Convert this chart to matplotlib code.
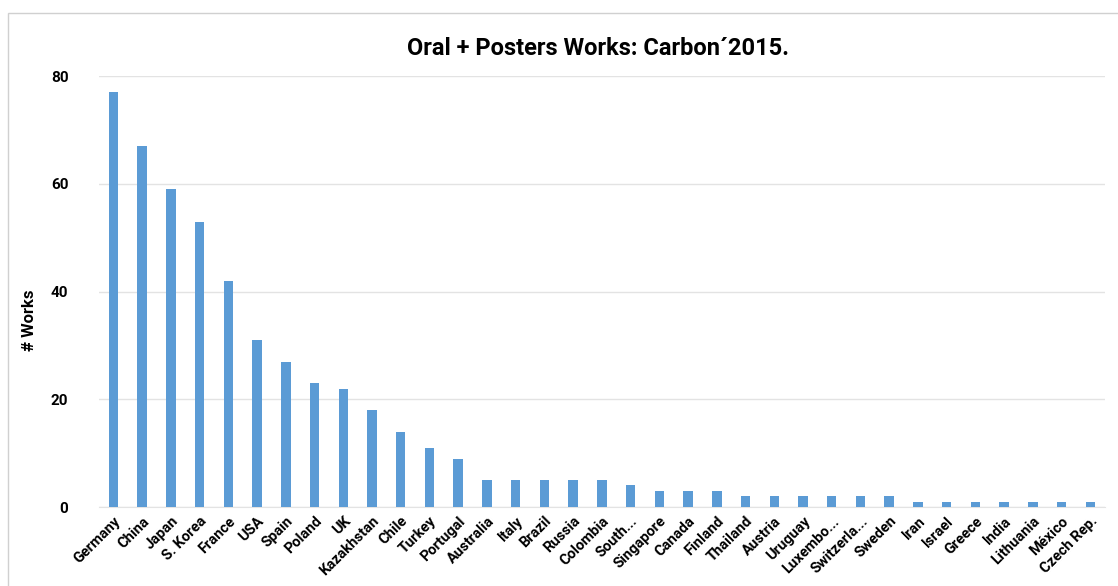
import matplotlib.pyplot as plt
import numpy as np
from matplotlib.patches import Rectangle

plt.rcParams['font.family'] = ['Roboto', 'DejaVu Sans']

countries = ['Germany', 'China', 'Japan', 'S. Korea', 'France', 'USA', 'Spain',
             'Poland', 'UK', 'Kazakhstan', 'Chile', 'Turkey', 'Portugal',
             'Australia', 'Italy', 'Brazil', 'Russia', 'Colombia', 'South...',
             'Singapore', 'Canada', 'Finland', 'Thailand', 'Austria', 'Uruguay',
             'Luxembo...', 'Switzerla...', 'Sweden', 'Iran', 'Israel', 'Greece',
             'India', 'Lithuania', 'México', 'Czech Rep.']
works = [77, 67, 59, 53, 42, 31, 27, 23, 22, 18, 14, 11, 9,
         5, 5, 5, 5, 5, 4, 3, 3, 3, 2, 2, 2, 2, 2, 2,
         1, 1, 1, 1, 1, 1, 1]
yticks = [0, 20, 40, 60, 80]

fig = plt.figure(figsize=(11.18, 5.86), dpi=100)
# chart frame like the excel export
fig.patches.append(Rectangle((8 / 1118, -0.01), 1.02, 1 - 13 / 586 + 0.01,
                             transform=fig.transFigure, fill=False,
                             edgecolor='#d0d0d0', linewidth=1))

ax = fig.add_axes([0.0886, 0.1348, 0.8995, 0.7352])
x = np.arange(len(countries))
ax.bar(x, works, width=0.33, color='#5B9BD5', zorder=3)

ax.set_xlim(-0.5, len(countries) - 0.5)
ax.set_ylim(0, 80)
ax.set_yticks(yticks)
ax.set_yticklabels([str(v) for v in yticks], fontsize=11, fontweight='bold')
ax.set_xticks(x)
ax.set_xticklabels(countries, rotation=45, ha='right', rotation_mode='anchor',
                   fontsize=10.5, fontweight='bold')
ax.tick_params(axis='both', length=0)
ax.tick_params(axis='y', pad=22)
ax.tick_params(axis='x', pad=5)
ax.grid(axis='y', color='#e3e3e3', linewidth=1, zorder=0)
for s in ['top', 'right', 'left']:
    ax.spines[s].set_visible(False)
ax.spines['bottom'].set_color('#e3e3e3')

fig.text(30 / 1118, 1 - 320 / 586, '# Works', rotation=90, ha='center',
         va='center', fontsize=12, fontweight='bold')
fig.text(0.535, 0.918, 'Oral + Posters Works: Carbon\u00b42015.', ha='center',
         va='center', fontsize=17, fontweight='bold')

plt.savefig('out.png', dpi=100)
